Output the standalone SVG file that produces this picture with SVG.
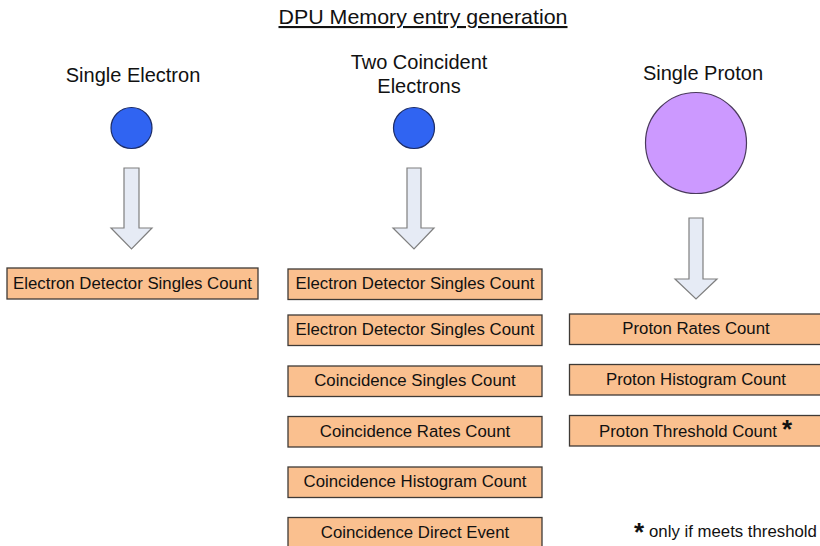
<svg xmlns="http://www.w3.org/2000/svg" width="820" height="546" viewBox="0 0 820 546">
<style>
text{font-family:"Liberation Sans",Arial,sans-serif;fill:#111}
.title{font-size:21px;text-anchor:middle;text-decoration:underline}
.head{font-size:20px;text-anchor:middle}
.box rect{fill:#FAC08F;stroke:#3f3a36;stroke-width:1.3}
.box text{font-size:16.8px;text-anchor:middle}
.arrow{fill:#E6EBF5;stroke:#7f7f7f;stroke-width:1.2}
.electron{fill:#3064F2;stroke:#1c2c66;stroke-width:1.2}
.proton{fill:#CC99FF;stroke:#4a3a5c;stroke-width:1.2}
.note{font-size:16.8px}
.star{font-size:26px;font-weight:bold}
</style>
<rect width="820" height="546" fill="#fff"/>
<text class="title" x="423" y="24" textLength="289" lengthAdjust="spacingAndGlyphs">DPU Memory entry generation</text>

<g id="single-electron">
<text class="head" x="133" y="82">Single Electron</text>
<circle class="electron" cx="131.5" cy="128" r="20.5"/>
</g>
<g id="two-electrons">
<text class="head" x="419" y="69">Two Coincident</text>
<text class="head" x="419" y="93">Electrons</text>
<circle class="electron" cx="414" cy="128" r="20.5"/>
</g>
<g id="single-proton">
<text class="head" x="703" y="80">Single Proton</text>
<circle class="proton" cx="696" cy="143" r="50.5"/>
</g>

<g id="connectors">
<path class="arrow" d="M124,168 H139 V228 H152 L131.5,249 L111,228 H124 Z"/>
<path class="arrow" d="M407,168 H421 V228 H434 L414,249 L393,228 H407 Z"/>
<path class="arrow" d="M689,218 H703 V279 H717 L696,299 L675,279 H689 Z"/>
</g>

<g id="left-eds" class="box"><rect x="7" y="268" width="251" height="31"/><text x="132.5" y="289">Electron Detector Singles Count</text></g>

<g id="mid-eds-1" class="box"><rect x="288" y="269" width="254" height="30.5"/><text x="415" y="289">Electron Detector Singles Count</text></g>
<g id="mid-eds-2" class="box"><rect x="288" y="315" width="254" height="30.5"/><text x="415" y="335">Electron Detector Singles Count</text></g>
<g id="coinc-singles" class="box"><rect x="288" y="366" width="254" height="30.5"/><text x="415" y="386">Coincidence Singles Count</text></g>
<g id="coinc-rates" class="box"><rect x="288" y="416.5" width="254" height="30.5"/><text x="415" y="436.5">Coincidence Rates Count</text></g>
<g id="coinc-hist" class="box"><rect x="288" y="467" width="254" height="30.5"/><text x="415" y="487">Coincidence Histogram Count</text></g>
<g id="coinc-direct" class="box"><rect x="288" y="517.5" width="254" height="30.5"/><text x="415" y="537.5">Coincidence Direct Event</text></g>

<g id="proton-rates" class="box"><rect x="569.5" y="314" width="253" height="30.5"/><text x="696" y="334">Proton Rates Count</text></g>
<g id="proton-hist" class="box"><rect x="569.5" y="364.5" width="253" height="30.5"/><text x="696" y="384.5">Proton Histogram Count</text></g>
<g id="proton-thresh" class="box"><rect x="569.5" y="415.5" width="253" height="30.5"/><text x="688" y="436.5">Proton Threshold Count</text><text class="star" x="787" y="438" style="text-anchor:middle;font-size:26px">*</text></g>

<g id="footnote">
<text class="star" x="639" y="541" style="text-anchor:middle">*</text>
<text class="note" x="649" y="537">only if meets threshold</text>
</g>
</svg>
